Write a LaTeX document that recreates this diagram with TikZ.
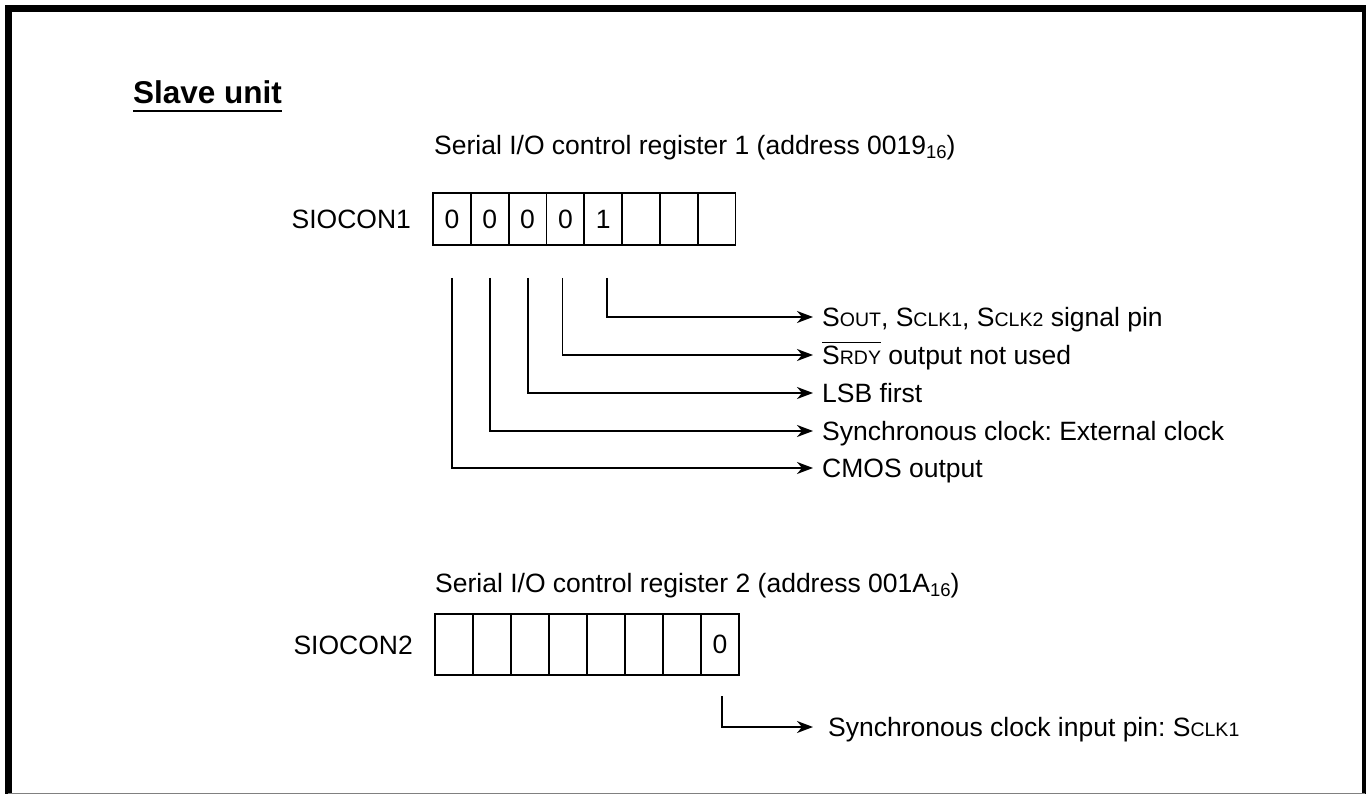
\documentclass[tikz,border=0pt]{standalone}
\usepackage{fontspec}
\setmainfont{Liberation Sans}
\usetikzlibrary{arrows.meta,positioning}
\frenchspacing

\newcommand{\lowcap}[1]{{\fontsize{19.5}{19.5}\selectfont #1}}
\newcommand{\subnum}[1]{\raisebox{-4pt}{\fontsize{18.5}{18.5}\selectfont #1}}
\newcommand{\barsig}[1]{\setbox0\hbox{#1}\rlap{\rule[\dimexpr\ht0+3pt\relax]{\wd0}{1.3pt}}\box0\relax}

\begin{document}
\begin{tikzpicture}[
  x=1pt, y=-1pt,
  font=\fontsize{26.5}{30}\selectfont,
  cell/.style={draw, line width=1.8pt, minimum width=37.8pt, minimum height=52pt, inner sep=0pt, outer sep=0pt},
  cellb/.style={cell, minimum width=38pt, minimum height=61pt},
  lbl/.style={inner sep=0pt, text height=19pt, text depth=0pt},
  bitlbl/.style={lbl, anchor=west, inner xsep=9pt},
  arr/.style={-{Stealth[length=16pt, width=12pt, inset=5pt]}, line width=1.8pt},
]
\useasboundingbox (0,0) rectangle (1366,794);
% frame
\draw[line width=6.5pt, line join=miter] (8.3,794) -- (8.3,8.3) -- (1365,8.3) -- (1365,794);
\draw[gray, line width=1pt] (8.3,793) -- (1365,793);

\node[anchor=base west, inner sep=0pt, font=\bfseries\fontsize{31.5}{34}\selectfont] (title) at (133,104) {Slave unit};
\draw[line width=2.5pt] ([yshift=-7pt]title.base west) -- ([yshift=-7pt]title.base east);

% register 1
\node[anchor=base west, inner sep=0pt] (reg1) at (434,155) {Serial I/O control register 1 (address 0019\subnum{16})};
\node[cell] (a0) at (452,219) {0};
\node[cell, right=0pt of a0] (a1) {0};
\node[cell, right=0pt of a1] (a2) {0};
\node[cell, right=0pt of a2] (a3) {0};
\node[cell, right=0pt of a3] (a4) {1};
\node[cell, right=0pt of a4] (a5) {};
\node[cell, right=0pt of a5] (a6) {};
\node[cell, right=0pt of a6] (a7) {};
\node[lbl, left=22pt of a0] (siocon1) {SIOCON1};

\node[bitlbl] (p4) at (813,317) {S\lowcap{OUT}, S\lowcap{CLK1}, S\lowcap{CLK2} signal pin};
\node[bitlbl] (p3) at (813,355) {\barsig{S\lowcap{RDY}} output not used};
\node[bitlbl] (p2) at (813,393) {LSB first};
\node[bitlbl] (p1) at (813,431) {Synchronous clock: External clock};
\node[bitlbl] (p0) at (813,468) {CMOS output};

\draw[arr] ([xshift=4pt, yshift=-33pt]a4.south) |- (p4.west);
\draw[arr] ([xshift=-3pt, yshift=-33pt]a3.south) |- (p3.west);
\draw[arr] ([yshift=-33pt]a2.south) |- (p2.west);
\draw[arr] ([yshift=-33pt]a1.south) |- (p1.west);
\draw[arr] ([yshift=-33pt]a0.south) |- (p0.west);

% register 2
\node[anchor=base west, inner sep=0pt] (reg2) at (435,592) {Serial I/O control register 2 (address 001A\subnum{16})};
\node[cellb] (b0) at (454,644.5) {};
\node[cellb, right=0pt of b0] (b1) {};
\node[cellb, right=0pt of b1] (b2) {};
\node[cellb, right=0pt of b2] (b3) {};
\node[cellb, right=0pt of b3] (b4) {};
\node[cellb, right=0pt of b4] (b5) {};
\node[cellb, right=0pt of b5] (b6) {};
\node[cellb, right=0pt of b6] (b7) {0};
\node[lbl, left=22pt of b0] (siocon2) {SIOCON2};

\node[bitlbl, inner xsep=15pt] (q0) at (813,727) {Synchronous clock input pin: S\lowcap{CLK1}};
\draw[arr] ([xshift=2pt, yshift=-21pt]b7.south) |- (q0.west);
\end{tikzpicture}
\end{document}
